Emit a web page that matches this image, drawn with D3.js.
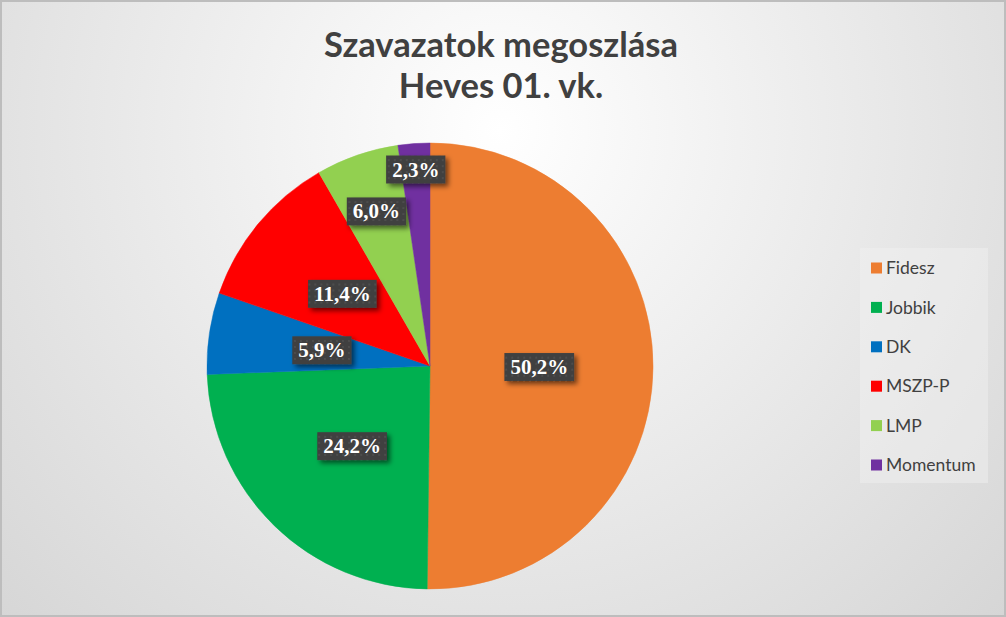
<!DOCTYPE html>
<html>
<head>
<meta charset="utf-8">
<style>
  html, body { margin: 0; padding: 0; background: #fff; }
  svg { display: block; }
</style>
</head>
<body>
<script src="https://cdn.jsdelivr.net/npm/d3@7"></script>
<script>
// chart data
var parties = ["Fidesz", "Jobbik", "DK", "MSZP-P", "LMP", "Momentum"];
var shares = [50.2, 24.2, 5.9, 11.4, 6.0, 2.3];
var colors = ["#ED7D31", "#00B050", "#0070C0", "#FF0000", "#92D050", "#7030A0"];
var titleLines = ["Szavazatok megoszlása", "Heves 01. vk."];

// best-fit label distance from centre (fraction of radius), as Excel placed them
var labelDist = [0.49, 0.50, 0.49, 0.51, 0.735, 0.885];

var width = 1006, height = 617;
var cx = 430, cy = 366, radius = 223;

var svg = d3.select("body").append("svg")
    .attr("width", width)
    .attr("height", height);

var defs = svg.append("defs");

var bg = defs.append("radialGradient")
    .attr("id", "bg")
    .attr("gradientUnits", "userSpaceOnUse")
    .attr("cx", 500).attr("cy", 130).attr("r", 700);
bg.append("stop").attr("offset", "0%").attr("stop-color", "#ffffff");
bg.append("stop").attr("offset", "100%").attr("stop-color", "#d6d6d6");

var dots = defs.append("pattern")
    .attr("id", "dots")
    .attr("patternUnits", "userSpaceOnUse")
    .attr("width", 6).attr("height", 6);
dots.append("rect").attr("width", 6).attr("height", 6).attr("fill", "#404040");
dots.append("rect").attr("x", 2).attr("y", 2).attr("width", 2).attr("height", 2).attr("fill", "#4d4d4d");

var shadow = defs.append("filter").attr("id", "shadow")
    .attr("x", "-20%").attr("y", "-30%").attr("width", "150%").attr("height", "170%");
shadow.append("feDropShadow")
    .attr("dx", 3).attr("dy", 3).attr("stdDeviation", 2.5)
    .attr("flood-color", "#000").attr("flood-opacity", 0.55);

svg.append("rect")
    .attr("x", 1).attr("y", 1)
    .attr("width", width - 2).attr("height", height - 2)
    .attr("fill", "url(#bg)")
    .attr("stroke", "#bdbdbd")
    .attr("stroke-width", 2);

// title
svg.append("g").selectAll("text")
    .data(titleLines)
    .enter().append("text")
    .attr("x", 501)
    .attr("y", function (d, i) { return 57 + i * 41; })
    .attr("text-anchor", "middle")
    .attr("font-family", "Lato, 'Open Sans', sans-serif")
    .attr("font-weight", "bold")
    .attr("font-size", 34.5)
    .attr("fill", "#404040")
    .text(function (d) { return d; });

// pie
var data = parties.map(function (p, i) {
    return { name: p, value: shares[i], color: colors[i], dist: labelDist[i] };
});

var pie = d3.pie()
    .sort(null)
    .value(function (d) { return d.value; });

var arc = d3.arc().innerRadius(0).outerRadius(radius);

var arcs = pie(data);

var pieGroup = svg.append("g")
    .attr("transform", "translate(" + cx + "," + cy + ")");

pieGroup.selectAll("path")
    .data(arcs)
    .enter().append("path")
    .attr("d", arc)
    .attr("fill", function (d) { return d.data.color; })
    .attr("stroke", function (d) { return d.data.color; })
    .attr("stroke-width", 0.5);

var fmt = function (v) { return v.toFixed(1).replace(".", ",") + "%"; };

var labels = pieGroup.selectAll("g.label")
    .data(arcs)
    .enter().append("g")
    .attr("class", "label")
    .attr("transform", function (d) {
        var a = (d.startAngle + d.endAngle) / 2;
        var r = radius * d.data.dist;
        return "translate(" + (r * Math.sin(a)) + "," + (-r * Math.cos(a)) + ")";
    });

labels.append("text")
    .attr("class", "lbl")
    .attr("text-anchor", "middle")
    .attr("dy", "0.35em")
    .attr("font-family", "'Liberation Serif', 'Times New Roman', serif")
    .attr("font-weight", "bold")
    .attr("font-size", 21)
    .attr("fill", "#ffffff")
    .text(function (d) { return fmt(d.data.value); });

labels.each(function () {
    var g = d3.select(this);
    var t = g.select("text");
    var bb = t.node().getBBox();
    var padX = 6, padY = 3;
    g.insert("rect", "text")
        .attr("x", bb.x - padX)
        .attr("y", bb.y - padY + 1)
        .attr("width", bb.width + padX * 2)
        .attr("height", bb.height + padY * 2 - 2)
        .attr("fill", "url(#dots)")
        .attr("filter", "url(#shadow)");
});

// legend
var legend = svg.append("g").attr("transform", "translate(860,248)");
legend.append("rect")
    .attr("width", 128).attr("height", 235)
    .attr("fill", "#f2f2f2").attr("fill-opacity", 0.45);

var items = legend.selectAll("g.item")
    .data(data)
    .enter().append("g")
    .attr("class", "item")
    .attr("transform", function (d, i) { return "translate(0," + (20 + i * 39.4) + ")"; });

items.append("rect")
    .attr("x", 11).attr("y", -5.5)
    .attr("width", 11).attr("height", 11)
    .attr("fill", function (d) { return d.color; });

items.append("text")
    .attr("x", 26)
    .attr("dy", "0.35em")
    .attr("font-family", "Lato, 'Open Sans', sans-serif")
    .attr("font-size", 17.5)
    .attr("fill", "#404040")
    .text(function (d) { return d.name; });
</script>
</body>
</html>
